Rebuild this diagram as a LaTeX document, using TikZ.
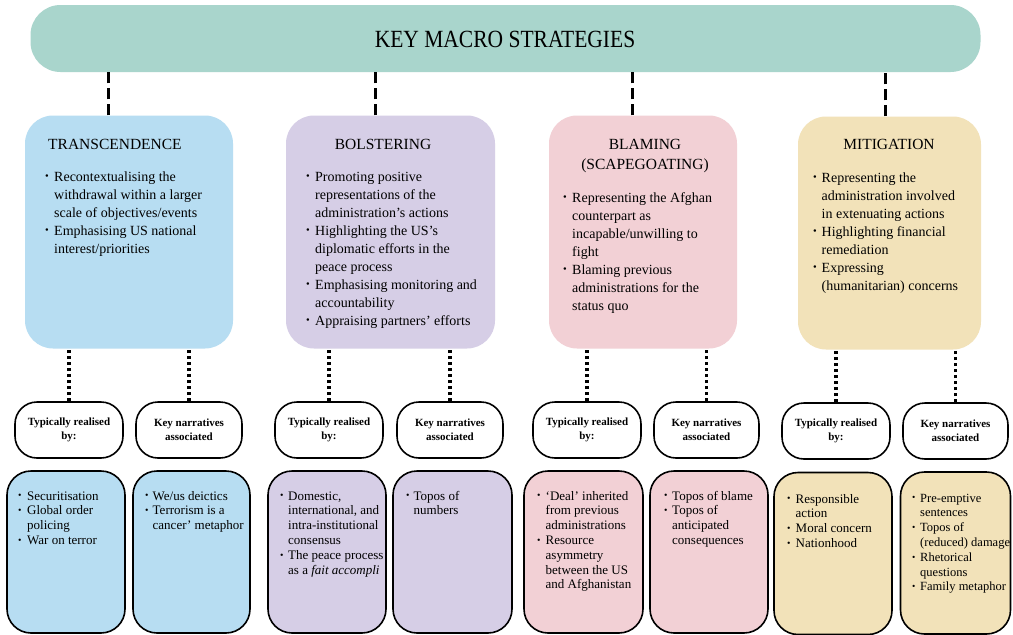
\documentclass[tikz,border=0pt]{standalone}
\usepackage{fontspec}
\usepackage{graphicx}
\setmainfont{Liberation Serif}
\definecolor{cteal}{RGB}{169,213,204}
\definecolor{cblue}{RGB}{183,221,242}
\definecolor{cpurple}{RGB}{214,206,230}
\definecolor{cpink}{RGB}{242,208,213}
\definecolor{cyellow}{RGB}{242,226,185}
\newcommand\bul{\raisebox{0.2ex}{\scalebox{0.75}{\textbullet}}}
\newenvironment{blist}[1]{\begin{tabular}[t]{@{}p{#1}@{}l@{}}}{\end{tabular}}
\tikzset{
  banner/.style={fill=cteal, rounded corners=30pt, minimum width=950pt, minimum height=67pt, inner sep=0pt},
  topbox/.style={rounded corners=28pt, minimum height=233pt, inner sep=0pt},
  head/.style={font=\fontsize{15.5}{21}\selectfont, inner sep=0pt},
  toptxt/.style={font=\fontsize{14}{18}\selectfont, inner sep=0pt, anchor=base west},
  labbox/.style={draw, line width=1.6pt, rounded corners=22pt, fill=white, minimum height=56pt, inner sep=0pt, align=center, font=\bfseries\fontsize{11}{14}\selectfont},
  botbox/.style={draw, line width=1.6pt, rounded corners=24pt, minimum height=162pt, inner sep=0pt},
  bottxt/.style={font=\fontsize{13}{14.8}\selectfont, inner sep=0pt, anchor=base west},
  dashconn/.style={line width=3pt, dash pattern=on 11pt off 5pt},
  dotconn/.style={line width=3.5pt, dash pattern=on 3.5pt off 2.5pt},
}
\begin{document}
\begin{tikzpicture}[x=1pt,y=-1pt]
\useasboundingbox[fill=white] (0,0) rectangle (1013,635);
% banner
\node[banner] (ban) at (505.5,38.5) {};
\node[inner sep=0pt, font=\fontsize{21.5}{26}\selectfont] (title) at (505,39) {\scalebox{1}[1.15]{KEY MACRO STRATEGIES}};
% top boxes
\node[topbox, fill=cblue, minimum width=208pt] (t1) at (129,232) {};
\node[topbox, fill=cpurple, minimum width=209pt] (t2) at (390.5,232) {};
\node[topbox, fill=cpink, minimum width=188pt] (t3) at (643,232) {};
\node[topbox, fill=cyellow, minimum width=183pt] (t4) at (889.5,233) {};
% dashed connectors
\draw[dashconn] ([xshift=-21pt]t1.north) -- ([xshift=-21pt]t1.north |- ban.south);
\draw[dashconn] ([xshift=-15pt]t2.north) -- ([xshift=-15pt]t2.north |- ban.south);
\draw[dashconn] ([xshift=-11pt]t3.north) -- ([xshift=-11pt]t3.north |- ban.south);
\draw[dashconn] ([xshift=-4pt]t4.north) -- ([xshift=-4pt]t4.north |- ban.south);
% headings
\node[head, anchor=base west] (h1) at (48,149) {TRANSCENDENCE};
\node[head, anchor=base] (h2) at (383,149) {BOLSTERING};
\node[head, anchor=base] (h3) at (645,149) {BLAMING};
\node[head, anchor=base] (h3b) at (645,169) {(SCAPEGOATING)};
\node[head, anchor=base] (h4) at (889,149) {MITIGATION};
% top texts
\node[toptxt] (x1) at (45,181) {\begin{blist}{9pt}
\bul & Recontextualising the\\
 & withdrawal within a larger\\
 & scale of objectives/events\\
\bul & Emphasising US national\\
 & interest/priorities
\end{blist}};
\node[toptxt] (x2) at (306,181) {\begin{blist}{9pt}
\bul & Promoting positive\\
 & representations of the\\
 & administration’s actions\\
\bul & Highlighting the US’s\\
 & diplomatic efforts in the\\
 & peace process\\
\bul & Emphasising monitoring and\\
 & accountability\\
\bul & Appraising partners’ efforts
\end{blist}};
\node[toptxt] (x3) at (563,202) {\begin{blist}{9pt}
\bul & Representing the Afghan\\
 & counterpart as\\
 & incapable/unwilling to\\
 & fight\\
\bul & Blaming previous\\
 & administrations for the\\
 & status quo
\end{blist}};
\node[toptxt] (x4) at (813,182) {\begin{blist}{8.5pt}
\bul & Representing the\\
 & administration involved\\
 & in extenuating actions\\
\bul & Highlighting financial\\
 & remediation\\
\bul & Expressing\\
 & (humanitarian) concerns
\end{blist}};
% label boxes
\node[labbox, minimum width=108pt] (l1) at (69,430) {Typically realised\\by:};
\node[labbox, minimum width=106pt] (l2) at (189,430) {Key narratives\\associated};
\node[labbox, minimum width=108pt] (l3) at (329,430) {Typically realised\\by:};
\node[labbox, minimum width=106pt] (l4) at (450,430) {Key narratives\\associated};
\node[labbox, minimum width=108pt] (l5) at (587,430) {Typically realised\\by:};
\node[labbox, minimum width=105pt] (l6) at (706.5,430) {Key narratives\\associated};
\node[labbox, minimum width=108pt] (l7) at (836,431) {Typically realised\\by:};
\node[labbox, minimum width=105pt] (l8) at (955.5,431) {Key narratives\\associated};
% dotted connectors
\draw[dotconn] (l1.north) -- (l1.north |- t1.south);
\draw[dotconn] (l2.north) -- (l2.north |- t1.south);
\draw[dotconn] (l3.north) -- (l3.north |- t2.south);
\draw[dotconn] (l4.north) -- (l4.north |- t2.south);
\draw[dotconn] (l5.north) -- (l5.north |- t3.south);
\draw[dotconn] (l6.north) -- (l6.north |- t3.south);
\draw[dotconn] (l7.north) -- (l7.north |- t4.south);
\draw[dotconn] (l8.north) -- (l8.north |- t4.south);
% bottom boxes
\node[botbox, fill=cblue, minimum width=118pt] (b1) at (66,552) {};
\node[botbox, fill=cblue, minimum width=117pt] (b2) at (191.5,552) {};
\node[botbox, fill=cpurple, minimum width=118pt] (b3) at (327,552) {};
\node[botbox, fill=cpurple, minimum width=119pt] (b4) at (452.5,552) {};
\node[botbox, fill=cpink, minimum width=119pt] (b5) at (583.5,552) {};
\node[botbox, fill=cpink, minimum width=118pt] (b6) at (709,552) {};
\node[botbox, fill=cyellow, minimum width=118pt] (b7) at (833,553.5) {};
\node[botbox, fill=cyellow, minimum width=110pt] (b8) at (955.5,553) {};
% bottom texts
\node[bottxt] (y1) at (18,500) {\begin{blist}{9pt}
\bul & Securitisation\\
\bul & Global order\\
 & policing\\
\bul & War on terror
\end{blist}};
\node[bottxt] (y2) at (145,500) {\begin{blist}{7.5pt}
\bul & We/us deictics\\
\bul & Terrorism is a\\
 & cancer’ metaphor
\end{blist}};
\node[bottxt] (y3) at (280,500) {\begin{blist}{8pt}
\bul & Domestic,\\
 & international, and\\
 & intra-institutional\\
 & consensus\\
\bul & The peace process\\
 & as a \textit{fait accompli}
\end{blist}};
\node[bottxt] (y4) at (406,500) {\begin{blist}{7.5pt}
\bul & Topos of\\
 & numbers
\end{blist}};
\node[bottxt] (y5) at (537,500) {\begin{blist}{8.5pt}
\bul & ‘Deal’ inherited\\
 & from previous\\
 & administrations\\
\bul & Resource\\
 & asymmetry\\
 & between the US\\
 & and Afghanistan
\end{blist}};
\node[bottxt] (y6) at (664,500) {\begin{blist}{8pt}
\bul & Topos of blame\\
\bul & Topos of\\
 & anticipated\\
 & consequences
\end{blist}};
\node[bottxt] (y7) at (787,503) {\begin{blist}{8.5pt}
\bul & Responsible\\
 & action\\
\bul & Moral concern\\
\bul & Nationhood
\end{blist}};
\node[bottxt, font=\fontsize{12.5}{14.8}\selectfont] (y8) at (912,502) {\begin{blist}{8pt}
\bul & Pre-emptive\\
 & sentences\\
\bul & Topos of\\
 & (reduced) damage\\
\bul & Rhetorical\\
 & questions\\
\bul & Family metaphor
\end{blist}};
\end{tikzpicture}
\end{document}
